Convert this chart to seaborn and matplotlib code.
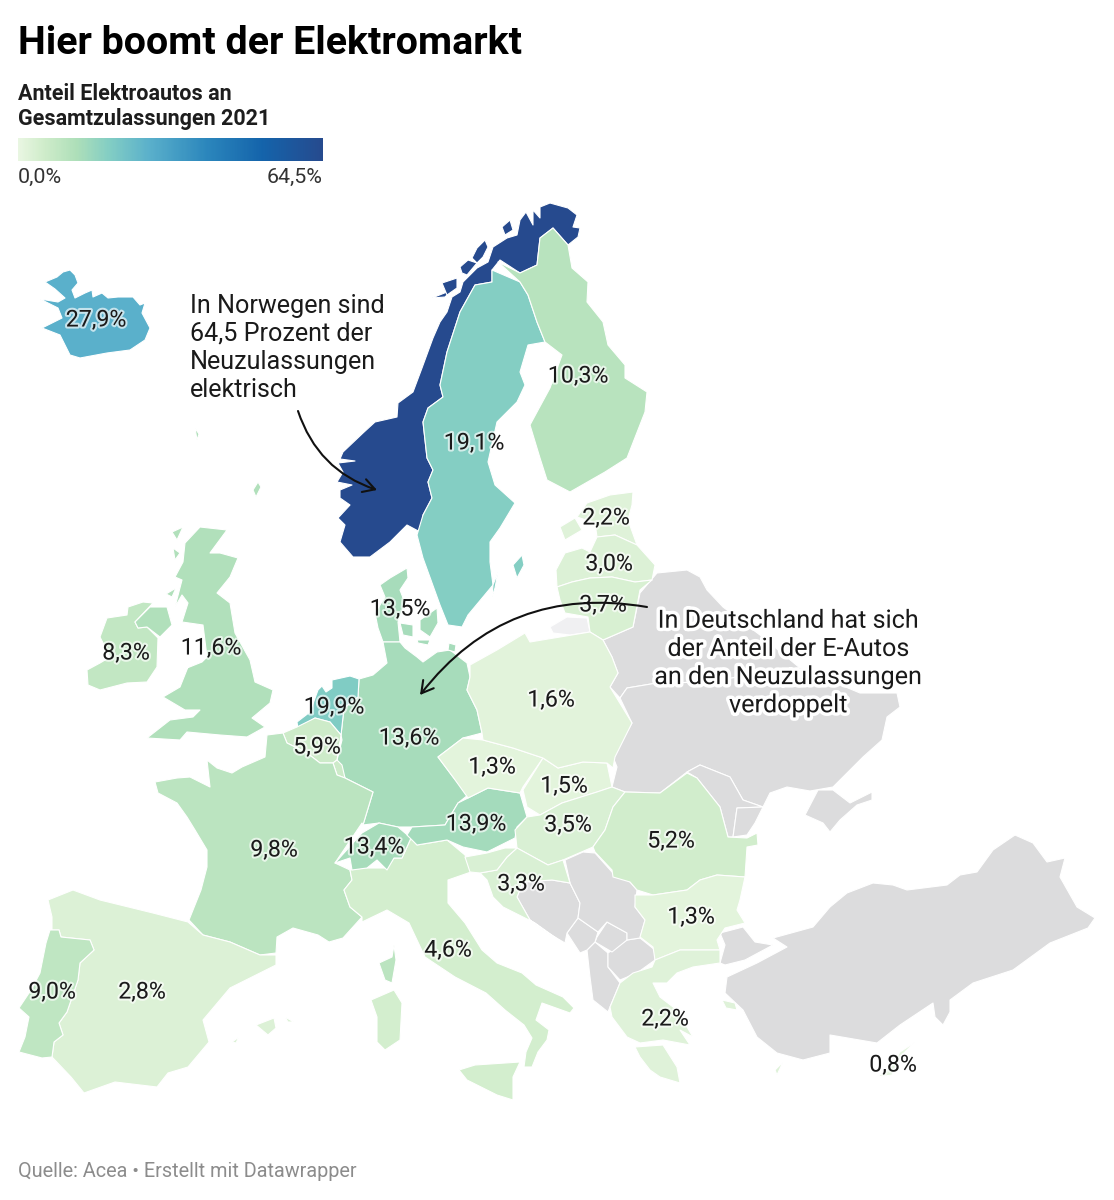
import numpy as np
import matplotlib
matplotlib.use("Agg")
import matplotlib.pyplot as plt
import matplotlib.patheffects as pe
from matplotlib.colors import LinearSegmentedColormap
import seaborn as sns

NORWAY = [(580,228),(573,227),(577,215),(568,208),(550,203),(540,207),(540,218),(533,210),(533,225),(526,212),(520,220),(517,235),(507,238),(493,247),(488,262),(477,268),(463,282),(460,292),(452,297),(447,312),(440,322),(433,338),(422,368),(413,392),(398,403),(397,417),(375,422),(363,433),(343,452),(340,459),(355,461),(338,463),(343,472),(337,482),(352,485),(340,490),(340,498),(350,505),(338,518),(345,525),(340,542),(353,557),(370,557),(390,542),(407,525),(422,533),(423,515),(432,498),(428,482),(433,470),(427,458),(423,422),(428,408),(443,397),(440,385),(447,352),(460,312),(475,285),(492,282),(492,270),(500,260),(520,273),(537,265),(540,238),(553,228),(568,245),(578,237)]
LOFOTEN = [(432,298),(452,290),(445,297)]
SENJA = [(442,283),(457,278),(457,288),(447,295)]
SOROYA = [(460,267),(468,260),(477,263),(467,275),(462,273)]
HINNOYA = [(472,258),(477,248),(485,240),(488,247),(483,257),(477,263)]
TROMSO = [(502,227),(510,220),(513,230),(505,235)]
SWEDEN = [(492,270),(520,282),(528,295),(537,322),(545,342),(528,345),(520,372),(525,385),(517,402),(497,422),(488,462),(495,485),(515,503),(500,528),(490,542),(490,562),(493,585),(468,615),(462,627),(448,625),(440,605),(423,558),(417,535),(423,515),(432,498),(428,482),(433,470),(427,458),(423,422),(428,408),(443,397),(440,385),(447,352),(460,312),(475,285),(492,282)]
GOTLAND = [(522,555),(524,565),(517,578),(513,565)]
OLAND = [(498,572),(495,588),(492,597),(493,585)]
FINLAND = [(498,262),(520,273),(537,265),(540,238),(553,228),(568,245),(572,268),(588,282),(587,302),(603,322),(608,345),(625,365),(625,378),(647,392),(645,412),(627,458),(605,472),(570,492),(547,480),(540,458),(530,425),(537,412),(550,388),(562,355),(545,342),(537,322),(528,295),(520,282)]
ICELAND = [(45,282),(57,277),(63,272),(70,270),(75,275),(78,283),(72,290),(75,298),(85,293),(92,290),(93,297),(102,293),(108,298),(118,297),(133,297),(140,305),(145,303),(142,313),(150,328),(145,340),(130,350),(107,353),(80,358),(70,355),(60,335),(42,328),(62,318),(58,308),(40,299),(58,302),(65,298),(55,289)]
ESTONIA = [(633,492),(610,495),(587,503),(577,517),(595,523),(597,537),(615,535),(637,545),(628,520),(632,505)]
SAAREMAA = [(560,527),(575,518),(582,530),(565,540)]
LATVIA = [(557,587),(556,570),(565,553),(582,548),(590,552),(597,537),(615,535),(637,545),(655,565),(652,580),(635,582),(612,577),(590,578),(572,582)]
LITHUANIA = [(557,587),(572,582),(590,578),(612,577),(635,582),(652,580),(640,590),(633,627),(603,640),(590,632),(588,617),(565,613),(560,600)]
KALININGRAD = [(550,627),(567,617),(587,618),(590,632),(570,635),(553,633)]
JUTLAND = [(407,568),(390,578),(380,585),(385,597),(375,613),(378,628),(383,642),(400,642),(398,622),(405,603),(400,590),(408,578)]
FUNEN = [(400,623),(413,625),(413,637),(403,635)]
ZEALAND = [(420,620),(437,608),(438,623),(430,637),(420,630)]
LOLLAND = [(417,640),(430,640),(428,645),(418,643)]
GERMANY = [(383,642),(400,642),(405,648),(417,657),(423,662),(437,652),(450,650),(467,663),(470,677),(467,690),(477,710),(482,733),(463,738),(438,757),(453,777),(468,795),(458,803),(445,825),(412,827),(398,827),(379,823),(363,825),(373,792),(345,778),(337,760),(342,740),(341,735),(344,708),(358,697),(359,679),(373,675),(387,663)]
RUEGEN = [(449,643),(456,645),(455,652),(448,650)]
NETHERLANDS = [(332,680),(350,676),(359,679),(358,697),(344,708),(341,735),(330,722),(315,718),(298,729),(297,722),(310,712),(318,690),(322,686),(326,692),(332,688)]
BELGIUM = [(283,733),(297,727),(315,718),(330,722),(341,735),(337,760),(333,763),(320,763),(307,753),(287,743)]
LUXEMBOURG = [(333,763),(337,760),(342,765),(345,778),(337,775)]
FRANCE = [(283,733),(267,735),(265,757),(242,767),(232,773),(217,768),(207,760),(210,787),(190,777),(177,778),(155,782),(158,793),(177,803),(187,817),(195,830),(207,850),(207,867),(201,890),(189,920),(203,935),(230,942),(260,955),(276,953),(277,937),(293,928),(318,935),(329,942),(343,938),(362,917),(350,907),(344,890),(352,880),(350,870),(335,863),(362,823),(363,825),(373,792),(345,778),(337,775),(333,763),(320,763),(307,753),(287,743)]
CORSICA = [(394,945),(396,960),(392,983),(385,980),(379,963),(392,957)]
SPAIN = [(48,900),(73,890),(100,900),(153,913),(188,922),(203,935),(230,942),(260,955),(276,955),(276,965),(256,975),(230,988),(203,1020),(209,1042),(188,1067),(168,1073),(157,1087),(115,1082),(84,1093),(71,1077),(52,1057),(54,1042),(63,1035),(59,1023),(67,1012),(78,980),(80,963),(94,950),(90,940),(61,937),(59,930),(52,930),(52,917)]
PORTUGAL = [(50,930),(59,930),(61,937),(90,940),(94,950),(80,963),(78,980),(67,1012),(59,1023),(63,1035),(54,1042),(52,1057),(42,1058),(19,1052),(25,1037),(29,1017),(19,1008),(31,990),(40,973),(46,943)]
MALLORCA = [(256,1025),(274,1018),(276,1028),(268,1035)]
MENORCA = [(285,1017),(294,1022),(288,1022)]
IBIZA = [(232,1042),(239,1037),(236,1043)]
SARDINIA = [(394,990),(402,1003),(400,1040),(385,1050),(377,1042),(377,1017),(371,1000)]
ITALY = [(350,870),(363,868),(387,868),(394,858),(402,858),(411,838),(417,845),(447,840),(465,855),(471,872),(448,880),(448,903),(465,923),(482,950),(497,963),(522,973),(536,985),(563,997),(574,1008),(570,1013),(542,1003),(536,1020),(549,1030),(547,1040),(538,1052),(532,1067),(524,1067),(526,1052),(532,1038),(524,1025),(505,1010),(486,993),(455,977),(425,957),(409,923),(387,910),(362,922),(362,917),(350,907),(344,890),(352,880)]
SICILY = [(459,1070),(475,1065),(520,1062),(513,1077),(513,1100),(497,1095),(467,1080)]
SWITZERLAND = [(335,863),(362,833),(379,823),(398,827),(411,838),(402,858),(394,858),(387,870),(377,860),(367,868),(352,870),(350,858)]
AUSTRIA = [(488,788),(520,793),(527,817),(517,827),(515,838),(487,852),(463,847),(447,840),(417,845),(407,835),(412,827),(445,825),(458,803),(468,798)]
CZECHIA = [(438,757),(463,738),(483,740),(513,748),(543,758),(523,787),(520,793),(488,788),(468,798),(453,777)]
SLOVAKIA = [(543,758),(558,768),(583,762),(607,763),(612,787),(597,792),(562,803),(540,815),(527,807),(523,790)]
POLAND = [(470,665),(497,650),(525,633),(530,642),(590,632),(603,640),(612,657),(618,673),(610,687),(632,723),(615,757),(613,768),(607,763),(583,762),(558,768),(543,758),(513,748),(483,740),(482,733),(477,710),(467,690),(470,677)]
HUNGARY = [(527,817),(540,815),(562,803),(597,792),(612,787),(625,792),(613,807),(605,830),(593,847),(563,860),(548,865),(517,848),(515,830)]
CROATIA = [(517,848),(548,865),(563,860),(570,883),(552,880),(523,882),(517,897),(530,920),(548,933),(563,943),(535,923),(503,907),(493,897),(487,880),(480,873),(497,870),(507,857)]
SLOVENIA = [(465,857),(487,853),(505,848),(517,848),(507,857),(497,870),(480,873),(470,872)]
ROMANIA = [(625,792),(660,793),(687,773),(697,778),(720,807),(728,837),(747,838),(757,833),(758,845),(747,847),(745,877),(717,875),(700,880),(687,890),(653,895),(637,890),(630,882),(613,877),(612,870),(595,852),(593,847),(605,830),(613,807)]
BULGARIA = [(635,895),(653,895),(687,890),(700,880),(717,875),(745,877),(740,900),(737,910),(745,923),(725,928),(717,940),(720,950),(680,950),(655,960),(653,947),(640,937),(645,920),(635,907)]
GREECE = [(655,960),(680,950),(720,950),(720,963),(693,967),(677,973),(667,983),(653,983),(660,997),(677,1010),(693,1037),(680,1030),(690,1045),(663,1040),(640,1043),(627,1037),(612,1017),(610,1007),(620,983),(633,973),(652,967)]
PELOPONNESE = [(635,1047),(663,1045),(677,1067),(680,1083),(660,1077),(650,1070),(640,1057)]
LESBOS = [(722,1000),(735,1003),(737,1010),(726,1008)]
RHODES = [(783,1062),(777,1075),(775,1070)]
CYPRUS = [(915,1042),(900,1057),(892,1075),(877,1077),(890,1068),(900,1052)]
IRELAND = [(107,618),(127,615),(128,607),(143,602),(153,603),(135,622),(138,628),(147,627),(158,638),(157,667),(147,682),(127,683),(100,690),(88,685),(87,670),(100,663),(110,657),(100,637)]
BRITAIN = [(200,527),(227,530),(210,553),(220,553),(238,558),(230,577),(217,593),(230,603),(235,633),(250,660),(255,682),(273,690),(270,703),(252,718),(265,727),(247,737),(220,735),(187,732),(180,740),(147,738),(170,720),(193,717),(200,710),(185,710),(163,697),(180,687),(188,667),(177,672),(202,662),(207,657),(203,625),(182,622),(188,603),(182,595),(175,607),(182,580),(175,577),(183,562),(185,543)]
N_IRELAND = [(135,622),(150,607),(167,607),(172,625),(160,637),(147,627),(138,628)]
HEBRIDES = [(172,532),(183,527),(177,540)]
SKYE = [(173,548),(180,553),(175,560)]
ISLAY = [(166,594),(176,588),(172,597)]
FAROE = [(195,428),(199,434),(197,440)]
SHETLAND = [(258,482),(261,487),(256,497),(253,490)]

# countries without a value
ALBANIA = [(587,950),(595,942),(608,953),(608,967),(620,983),(610,1007),(608,1012),(593,1000),(590,977)]
MACEDONIA = [(608,953),(627,940),(640,938),(655,950),(655,960),(637,973),(620,980),(608,967)]
KOSOVO = [(597,937),(607,922),(627,933),(627,940),(612,952),(595,942)]
MONTENEGRO = [(567,933),(578,918),(598,932),(595,942),(587,950),(580,953)]
BOSNIA = [(517,897),(523,882),(552,880),(570,883),(580,903),(578,918),(567,933),(565,943),(548,933),(530,920)]
SERBIA = [(565,860),(583,852),(595,853),(612,872),(630,882),(637,890),(635,907),(645,920),(640,938),(627,940),(627,933),(607,922),(598,932),(578,918),(580,903),(570,883)]
BELARUS = [(640,593),(657,573),(687,570),(700,577),(707,590),(723,607),(760,635),(800,668),(760,672),(713,682),(657,683),(627,688),(620,698),(610,687),(618,673),(612,657),(603,640),(633,627)]
UKRAINE = [(620,698),(627,688),(657,683),(713,682),(760,672),(800,668),(860,693),(897,693),(900,707),(887,717),(882,740),(863,757),(847,773),(833,787),(810,791),(787,787),(770,793),(763,807),(743,800),(730,777),(700,765),(687,772),(660,793),(625,792),(612,787),(617,767),(613,757),(632,723)]
MOLDOVA = [(687,772),(700,765),(730,777),(743,800),(763,807),(737,808),(733,837),(728,837),(720,807),(697,778)]
ODESA = [(737,808),(763,807),(755,823),(747,835),(733,837)]
CRIMEA = [(818,790),(833,790),(850,803),(872,792),(872,800),(857,805),(840,820),(830,832),(823,823),(805,815)]
TURKEY = [(773,938),(813,927),(830,907),(847,893),(873,883),(893,885),(907,890),(947,885),(960,875),(977,872),(993,850),(1015,835),(1033,843),(1047,862),(1065,858),(1060,877),(1077,907),(1095,918),(1088,928),(1050,943),(1013,970),(973,983),(950,1000),(950,1012),(943,1025),(935,1017),(933,1003),(900,1025),(877,1043),(830,1035),(830,1053),(803,1060),(777,1053),(757,1037),(743,1010),(725,993),(727,977),(757,963),(787,947)]
TURKEY_EU = [(720,933),(743,927),(755,942),(773,945),(745,960),(725,965),(720,963),(725,945)]

# --- data ---
country_names = ["Norwegen", "Island", "Schweden", "Finnland", "Estland", "Lettland", "Litauen",
                 "Dänemark", "Deutschland", "Niederlande", "Belgien", "Luxemburg", "Frankreich",
                 "Spanien", "Portugal", "Italien", "Schweiz", "Österreich", "Tschechien", "Slowakei",
                 "Polen", "Ungarn", "Kroatien", "Slowenien", "Rumänien", "Bulgarien", "Griechenland",
                 "Zypern", "Irland", "Großbritannien"]
country_values = [64.5, 27.9, 19.1, 10.3, 2.2, 3.0, 3.7, 13.5, 13.6, 19.9, 5.9, 5.9, 9.8, 2.8, 9.0,
                  4.6, 13.4, 13.9, 1.3, 1.5, 1.6, 3.5, 3.3, 3.3, 5.2, 1.3, 2.2, 0.8, 8.3, 11.6]
country_shapes = [[NORWAY, LOFOTEN, SENJA, SOROYA, HINNOYA, TROMSO], [ICELAND], [SWEDEN, GOTLAND, OLAND],
                  [FINLAND], [ESTONIA, SAAREMAA], [LATVIA], [LITHUANIA], [JUTLAND, FUNEN, ZEALAND, LOLLAND],
                  [GERMANY, RUEGEN], [NETHERLANDS], [BELGIUM], [LUXEMBOURG], [FRANCE, CORSICA],
                  [SPAIN, MALLORCA, MENORCA, IBIZA], [PORTUGAL], [ITALY, SICILY, SARDINIA], [SWITZERLAND],
                  [AUSTRIA], [CZECHIA], [SLOVAKIA], [POLAND], [HUNGARY], [CROATIA], [SLOVENIA], [ROMANIA],
                  [BULGARIA], [GREECE, PELOPONNESE, LESBOS, RHODES], [CYPRUS], [IRELAND],
                  [BRITAIN, N_IRELAND, HEBRIDES, SKYE, ISLAY, FAROE, SHETLAND]]
no_data_shapes = [ALBANIA, MACEDONIA, KOSOVO, MONTENEGRO, BOSNIA, SERBIA, BELARUS, UKRAINE, MOLDOVA,
                  ODESA, CRIMEA, TURKEY, TURKEY_EU]

label_texts = ["27,9%", "10,3%", "19,1%", "2,2%", "3,0%", "3,7%", "13,5%", "8,3%", "11,6%", "19,9%",
               "1,6%", "13,6%", "5,9%", "1,3%", "1,5%", "3,5%", "13,9%", "9,8%", "13,4%", "5,2%",
               "3,3%", "1,3%", "4,6%", "9,0%", "2,8%", "2,2%", "0,8%"]
label_x = [96, 578, 474, 606, 609, 603, 400, 126, 211, 334, 551, 409, 317, 492, 564, 568, 476, 274,
           374, 671, 521, 691, 448, 52, 142, 665, 893]
label_y = [318, 374, 441, 516, 562, 603, 607, 651, 646, 705, 698, 736, 745, 765, 784, 823, 822, 848,
           845, 839, 882, 915, 948, 990, 990, 1017, 1063]

VMAX = 64.5
cmap = LinearSegmentedColormap.from_list("gruen_blau", [
    (0.0, "#e9f6e2"), (0.085, "#cfecca"), (0.19, "#aedfb9"), (0.30, "#82cdc4"),
    (0.43, "#5ab0cb"), (0.62, "#2b86bc"), (0.80, "#1464ab"), (1.0, "#264a8e")])

sns.set_theme(style="white")
plt.rcParams['font.family'] = ['Roboto', 'DejaVu Sans']

fig = plt.figure(figsize=(11.14, 12), dpi=100)
ax = fig.add_axes([0, 0, 1, 1])
ax.set_xlim(0, 1114)
ax.set_ylim(1200, 0)
ax.axis("off")

# --- map ---
for shape in no_data_shapes:
    ax.fill(*zip(*shape), facecolor="#dcdcdd", edgecolor="white", linewidth=0.8, joinstyle="round", zorder=1)
ax.fill(*zip(*KALININGRAD), facecolor="#f0f0f2", edgecolor="white", linewidth=0.8, zorder=1)

for name, val, parts in zip(country_names, country_values, country_shapes):
    for part in parts:
        ax.fill(*zip(*part), facecolor=cmap(val / VMAX), edgecolor="white", linewidth=0.8,
                joinstyle="round", zorder=2)

halo = [pe.withStroke(linewidth=3, foreground="white", alpha=0.65)]
for txt, x, y in zip(label_texts, label_x, label_y):
    ax.text(x, y + 2, txt, ha="center", va="center", fontsize=16.7, color="#1a1a1a",
            path_effects=halo, zorder=4)

# --- annotations ---
ax.text(190, 348, "In Norwegen sind\n64,5 Prozent der\nNeuzulassungen\nelektrisch", ha="left", va="center",
        fontsize=18.1, color="#1a1a1a", linespacing=1.22, zorder=5)
ax.text(788, 663, "In Deutschland hat sich\nder Anteil der E-Autos\nan den Neuzulassungen\nverdoppelt",
        ha="center", va="center", fontsize=18.1, color="#1a1a1a", linespacing=1.22, zorder=5,
        path_effects=[pe.withStroke(linewidth=5, foreground="white")])
ax.annotate("", xy=(377, 490), xytext=(298, 411), zorder=6,
            arrowprops=dict(arrowstyle="->,head_length=0.7,head_width=0.4", color="#111111", lw=1.5,
                            connectionstyle="arc3,rad=0.25", shrinkA=0, shrinkB=0))
ax.annotate("", xy=(420, 695), xytext=(647, 607), zorder=6,
            arrowprops=dict(arrowstyle="->,head_length=0.7,head_width=0.4", color="#111111", lw=1.5,
                            connectionstyle="arc3,rad=0.3", shrinkA=0, shrinkB=0))

# --- titles and legend ---
ax.text(18, 54, "Hier boomt der Elektromarkt", fontsize=28.4, fontweight="bold", color="#000000")
ax.text(18, 100, "Anteil Elektroautos an", fontsize=15.5, fontweight="bold", color="#1d1d1d")
ax.text(18, 125, "Gesamtzulassungen 2021", fontsize=15.5, fontweight="bold", color="#1d1d1d")
ax.text(18, 183, "0,0%", fontsize=15.4, color="#333333")
ax.text(323, 183, "64,5%", fontsize=15.4, color="#333333", ha="right")
ax.text(18, 1177, "Quelle: Acea • Erstellt mit Datawrapper", fontsize=14.3, color="#8c8c8c")

cax = fig.add_axes([18 / 1114, 1 - 161 / 1200, 305 / 1114, 23 / 1200])
ramp = np.linspace(0, VMAX, 256).reshape(1, -1)
sns.heatmap(ramp, ax=cax, cmap=cmap, vmin=0, vmax=VMAX, cbar=False, xticklabels=False, yticklabels=False)

fig.savefig("out.png", dpi=100, facecolor="white")
